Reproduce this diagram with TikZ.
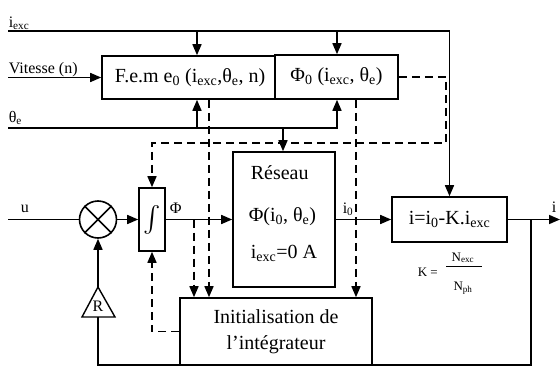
\documentclass[tikz,border=0pt]{standalone}
\usepackage{graphicx}
\usepackage{fontspec}
\setmainfont{Liberation Serif}
\usetikzlibrary{arrows.meta}
\begin{document}
\begin{tikzpicture}[x=1pt,y=-1pt,
  line width=1.6pt,
  >={Triangle[length=11pt,width=9pt]},
  blk/.style={draw, line width=1.6pt, fill=white, inner sep=0pt, font=\fontsize{20}{24}\selectfont},
  txt/.style={inner sep=0pt, font=\fontsize{20}{24}\selectfont},
  lbl/.style={font=\fontsize{16}{18}\selectfont, inner sep=0pt},
  kst/.style={font=\fontsize{13}{15}\selectfont, inner sep=0pt},
  dsh/.style={dash pattern=on 8pt off 5pt},
]
\useasboundingbox (0,0) rectangle (560,367);

% blocks
\node[blk, minimum width=176pt, minimum height=43pt] (fem) at (190,77.5) {F.e.m e\textsubscript{0} (i\textsubscript{exc},θ\textsubscript{e}, n)\hspace{6pt}};
\node[blk, minimum width=123pt, minimum height=44pt] (phi0) at (336.5,77) {Φ\textsubscript{0} (i\textsubscript{exc}, θ\textsubscript{e})};
\node[blk, minimum width=102pt, minimum height=135pt] (res) at (284,219.5) {};
\node[txt, anchor=base west] (r1) at (250,179) {Réseau};
\node[txt, anchor=base west] (r2) at (248,221) {Φ(i\textsubscript{0}, θ\textsubscript{e})};
\node[txt, anchor=base west] (r3) at (250,258) {i\textsubscript{exc}=0 A};
\node[blk, minimum width=115pt, minimum height=45pt] (ib) at (449.5,219.5) {i=i\textsubscript{0}-K.i\textsubscript{exc}};
\node[blk, minimum width=26pt, minimum height=63pt, font=\fontsize{10}{12}\selectfont] (integ) at (152,219.5) {\scalebox{2.6}{$\int$}};
\node[blk, minimum width=192pt, minimum height=67pt, align=center, font=\fontsize{20}{26}\selectfont] (init) at (276,331.5) {Initialisation de\\l’intégrateur};
\node[draw, circle, minimum size=37pt, inner sep=0pt, line width=1.6pt] (sum) at (98,219.5) {};
\draw[line width=1.6pt] (sum.north west) -- (sum.south east) (sum.north east) -- (sum.south west);

% R triangle
\coordinate (ra) at (98,287);
\coordinate (rl) at (82,317);
\coordinate (rr) at (115,317);
\coordinate (rb) at (98,317);
\draw[line width=1.4pt, line join=miter] (ra) -- (rl) -- (rr) -- cycle;
\node[lbl] (rlab) at (98,306) {R};

% K formula
\node[kst, anchor=base west] (kK) at (417,276) {K =};
\node[kst, anchor=base] (kN) at (463,261) {N\textsubscript{exc}};
\node[kst, anchor=base] (kD) at (463,290) {N\textsubscript{ph}};
\draw[line width=0.6pt] (446,266) -- (482,266);

% i_exc line
\coordinate (iexcL) at (8,31);
\coordinate (iexcR) at (449.5,31);
\draw[->] (iexcL) -- (iexcR) -- (ib.north);
\coordinate (t1) at (197,31);
\coordinate (t2) at (337,31);
\draw[->] (t1) -- (t1 |- fem.north);
\draw[->] (t2) -- (t2 |- phi0.north);

% Vitesse
\coordinate (vL) at (8,77.5);
\draw[->] (vL) -- (fem.west);

% theta line
\coordinate (thL) at (8,128);
\coordinate (thR) at (337,128);
\draw[->] (thL) -- (thR) -- (thR |- phi0.south);
\coordinate (t3) at (197,128);
\coordinate (t4) at (283,128);
\draw[->] (t3) -- (t3 |- fem.south);
\draw[->] (t4) -- (t4 |- res.north);

% dashed
\coordinate (d1) at (209,0);
\coordinate (d2) at (194,0);
\coordinate (d3) at (356,0);
\coordinate (d4) at (446,143);
\draw[dsh,->] (d1 |- fem.south) -- (d1 |- init.north);
\draw[dsh,->] (d2 |- integ.east) -- (d2 |- init.north);
\draw[dsh,->] (d3 |- phi0.south) -- (d3 |- init.north);
\draw[dsh,->] (phi0.east) -- (phi0.east -| d4) -- (d4) -- (d4 -| integ.north) -- (integ.north);
\draw[dsh,->] (init.west) -- (init.west -| integ.south) -- (integ.south);

% main chain
\coordinate (uL) at (8,219.5);
\draw (uL) -- (sum.west);
\draw[->] (sum.east) -- (integ.west);
\draw[->] (integ.east) -- (res.west);
\draw[->] (res.east) -- (ib.west);
\coordinate (iR) at (560,219.5);
\draw[->] (ib.east) -- (iR);
\coordinate (tap) at (531,219.5);
\coordinate (fb) at (531,365);
\coordinate (fbL) at (98,365);
\draw (tap) -- (fb) -- (fbL) -- (rb);
\draw[->] (ra) -- (sum.south);

% labels
\node[lbl, anchor=base west] (liexc) at (8,27) {i\textsubscript{exc}};
\node[lbl, anchor=base west] (lvit) at (8,73) {Vitesse (n)};
\node[lbl, anchor=base west] (lth) at (8,122) {θ\textsubscript{e}};
\node[lbl, anchor=base west] (lu) at (20,212) {u};
\node[lbl, anchor=base west] (lphi) at (169,213) {Φ};
\node[lbl, anchor=base west] (li0) at (342,213) {i\textsubscript{0}};
\node[lbl, anchor=base west] (li) at (551,212) {i};
\end{tikzpicture}
\end{document}
